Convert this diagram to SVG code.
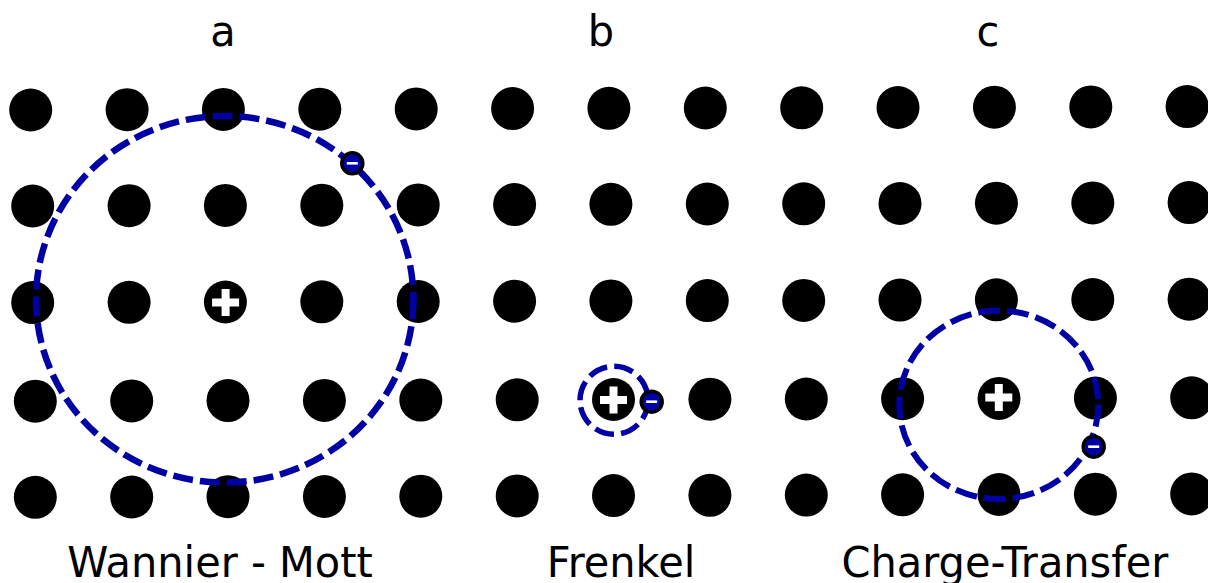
<svg xmlns="http://www.w3.org/2000/svg" xmlns:xlink="http://www.w3.org/1999/xlink" width="1208" height="583" viewBox="0 0 1208 583">
<style>
.dot{fill:#000}
.orbit{fill:none;stroke:#0000a4}
.lbl{font-family:"DejaVu Sans","Liberation Sans",sans-serif;font-size:41.5px;fill:#000;text-anchor:middle}
</style>
<defs>
<path id="plus" d="M-13.5,-4 h9.5 v-9.5 h8 v9.5 h9.5 v8 h-9.5 v9.5 h-8 v-9.5 h-9.5 z" fill="#fff"/>
<g id="electron">
<circle r="10.5" fill="#0000a4" stroke="#000" stroke-width="3.5"/>
<rect x="-5.5" y="-1.3" width="11" height="2.6" fill="#fff"/>
</g>
</defs>
<rect width="1208" height="583" fill="#fff"/>
<g id="lattice">
<g id="row1">
<circle class="dot" cx="30.7" cy="110.0" r="21.5"/><circle class="dot" cx="127.1" cy="109.7" r="21.5"/><circle class="dot" cx="223.4" cy="109.4" r="21.5"/><circle class="dot" cx="319.8" cy="109.2" r="21.5"/><circle class="dot" cx="416.2" cy="108.9" r="21.5"/><circle class="dot" cx="512.6" cy="108.6" r="21.5"/><circle class="dot" cx="608.9" cy="108.3" r="21.5"/><circle class="dot" cx="705.3" cy="108.0" r="21.5"/><circle class="dot" cx="801.7" cy="107.8" r="21.5"/><circle class="dot" cx="898.0" cy="107.5" r="21.5"/><circle class="dot" cx="994.4" cy="107.2" r="21.5"/><circle class="dot" cx="1090.8" cy="106.9" r="21.5"/><circle class="dot" cx="1187.1" cy="106.6" r="21.5"/>
</g>
<g id="row2">
<circle class="dot" cx="32.7" cy="206.0" r="21.5"/><circle class="dot" cx="129.1" cy="205.7" r="21.5"/><circle class="dot" cx="225.4" cy="205.4" r="21.5"/><circle class="dot" cx="321.8" cy="205.2" r="21.5"/><circle class="dot" cx="418.2" cy="204.9" r="21.5"/><circle class="dot" cx="514.6" cy="204.6" r="21.5"/><circle class="dot" cx="610.9" cy="204.3" r="21.5"/><circle class="dot" cx="707.3" cy="204.0" r="21.5"/><circle class="dot" cx="803.7" cy="203.8" r="21.5"/><circle class="dot" cx="900.0" cy="203.5" r="21.5"/><circle class="dot" cx="996.4" cy="203.2" r="21.5"/><circle class="dot" cx="1092.8" cy="202.9" r="21.5"/><circle class="dot" cx="1189.1" cy="202.6" r="21.5"/>
</g>
<g id="row3">
<circle class="dot" cx="32.7" cy="302.6" r="21.5"/><circle class="dot" cx="129.1" cy="302.3" r="21.5"/><circle class="dot" cx="225.4" cy="302.0" r="21.5"/><circle class="dot" cx="321.8" cy="301.8" r="21.5"/><circle class="dot" cx="418.2" cy="301.5" r="21.5"/><circle class="dot" cx="514.6" cy="301.2" r="21.5"/><circle class="dot" cx="610.9" cy="300.9" r="21.5"/><circle class="dot" cx="707.3" cy="300.6" r="21.5"/><circle class="dot" cx="803.7" cy="300.4" r="21.5"/><circle class="dot" cx="900.0" cy="300.1" r="21.5"/><circle class="dot" cx="996.4" cy="299.8" r="21.5"/><circle class="dot" cx="1092.8" cy="299.5" r="21.5"/><circle class="dot" cx="1189.1" cy="299.2" r="21.5"/>
</g>
<g id="row4">
<circle class="dot" cx="35.3" cy="401.2" r="21.5"/><circle class="dot" cx="131.7" cy="400.9" r="21.5"/><circle class="dot" cx="228.0" cy="400.6" r="21.5"/><circle class="dot" cx="324.4" cy="400.4" r="21.5"/><circle class="dot" cx="420.8" cy="400.1" r="21.5"/><circle class="dot" cx="517.2" cy="399.8" r="21.5"/><circle class="dot" cx="613.5" cy="399.5" r="21.5"/><circle class="dot" cx="709.9" cy="399.2" r="21.5"/><circle class="dot" cx="806.3" cy="399.0" r="21.5"/><circle class="dot" cx="902.6" cy="398.7" r="21.5"/><circle class="dot" cx="999.0" cy="398.4" r="21.5"/><circle class="dot" cx="1095.4" cy="398.1" r="21.5"/><circle class="dot" cx="1191.7" cy="397.8" r="21.5"/>
</g>
<g id="row5">
<circle class="dot" cx="35.3" cy="497.3" r="21.5"/><circle class="dot" cx="131.7" cy="497.0" r="21.5"/><circle class="dot" cx="228.0" cy="496.7" r="21.5"/><circle class="dot" cx="324.4" cy="496.5" r="21.5"/><circle class="dot" cx="420.8" cy="496.2" r="21.5"/><circle class="dot" cx="517.2" cy="495.9" r="21.5"/><circle class="dot" cx="613.5" cy="495.6" r="21.5"/><circle class="dot" cx="709.9" cy="495.3" r="21.5"/><circle class="dot" cx="806.3" cy="495.1" r="21.5"/><circle class="dot" cx="902.6" cy="494.8" r="21.5"/><circle class="dot" cx="999.0" cy="494.5" r="21.5"/><circle class="dot" cx="1095.4" cy="494.2" r="21.5"/><circle class="dot" cx="1191.7" cy="493.9" r="21.5"/>
</g>
</g>
<g id="exciton-a">
<use xlink:href="#plus" href="#plus" x="225.6" y="302.6"/>
<ellipse class="orbit" cx="224.7" cy="299.3" rx="188.7" ry="183.3" stroke-width="6.5" stroke-dasharray="20 7"/>
<use xlink:href="#electron" href="#electron" x="352.3" y="163.3"/>
</g>
<g id="exciton-b">
<use xlink:href="#plus" href="#plus" x="613.5" y="400"/>
<circle class="orbit" cx="614" cy="400.3" r="34" stroke-width="5.5" stroke-dasharray="19.5 7.2"/>
<use xlink:href="#electron" href="#electron" x="651.7" y="401.7"/>
</g>
<g id="exciton-c">
<use xlink:href="#plus" href="#plus" x="998.8" y="397.5"/>
<ellipse class="orbit" cx="998.8" cy="404.8" rx="99.5" ry="94.2" stroke-width="6" stroke-dasharray="22 7"/>
<use xlink:href="#electron" href="#electron" x="1093.7" y="446.7"/>
</g>
<g id="labels">
<text class="lbl" transform="translate(223,46) scale(1,1.03)">a</text>
<text class="lbl" transform="translate(601,46) scale(1,1.03)">b</text>
<text class="lbl" transform="translate(988,46) scale(1,1.03)">c</text>
<text class="lbl" transform="translate(220,577) scale(1,1.03)">Wannier - Mott</text>
<text class="lbl" transform="translate(621,577) scale(1,1.03)">Frenkel</text>
<text class="lbl" transform="translate(1005,577) scale(1,1.03)">Charge-Transfer</text>
</g>
</svg>
